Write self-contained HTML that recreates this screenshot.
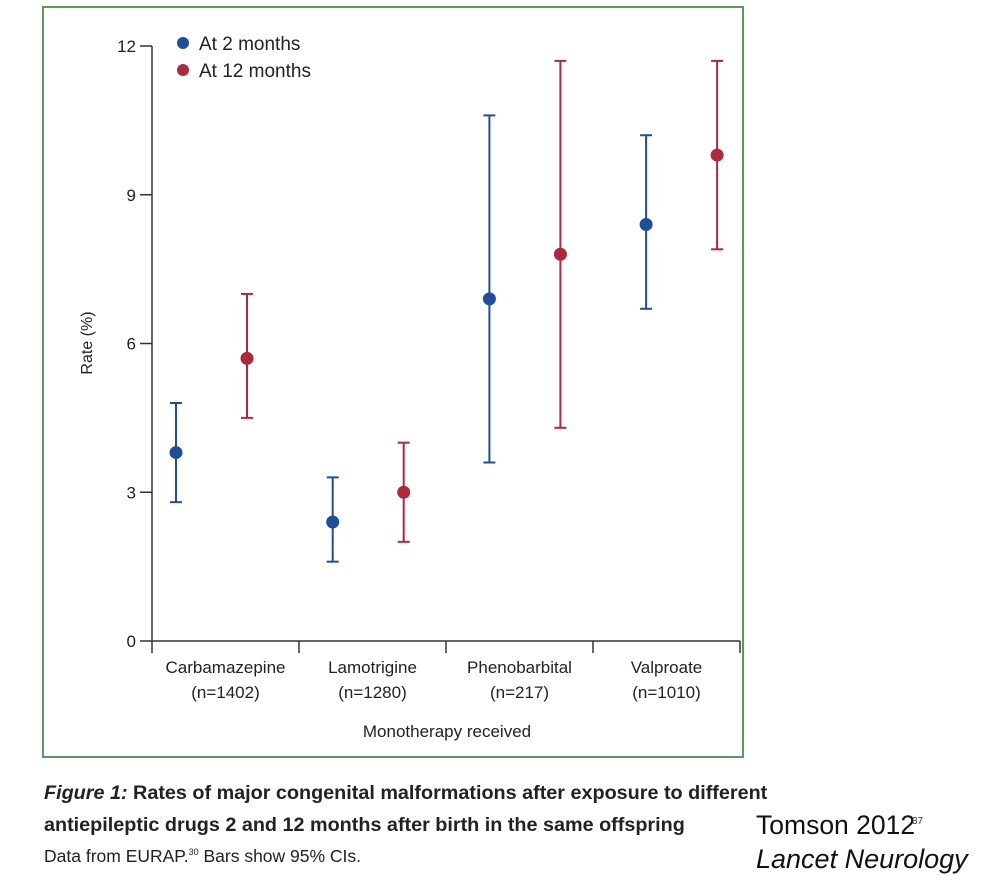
<!DOCTYPE html>
<html><head><meta charset="utf-8"><style>
body{margin:0;width:984px;height:890px;background:#fff;overflow:hidden;font-family:"Liberation Sans",sans-serif;position:relative}
#frame{position:absolute;left:42px;top:6px;width:702px;height:752px;border:2px solid #5a9a5a;box-sizing:border-box}
svg text{font-family:"Liberation Sans",sans-serif;fill:#222}
.cap{position:absolute;left:44px;font-size:19.8px;color:#222;white-space:nowrap}
</style></head><body>
<div id="frame"></div>
<svg id="chart" width="984" height="770" style="position:absolute;left:0;top:0"></svg>
<div class="cap" style="top:782px;font-weight:bold"><i>Figure 1:</i> Rates of major congenital malformations after exposure to different</div>
<div class="cap" style="top:814px;font-weight:bold">antiepileptic drugs 2 and 12 months after birth in the same offspring</div>
<div class="cap" style="top:846px;font-size:17.5px">Data from EURAP.<sup style="font-size:9px">30</sup> Bars show 95% CIs.</div>
<div style="position:absolute;left:756px;top:810px;font-size:26.5px;color:#111">Tomson 2012</div>
<div style="position:absolute;left:756px;top:844px;font-size:27px;font-style:italic;color:#111">Lancet Neurology</div>
<div style="position:absolute;left:912px;top:816px;font-size:10px;color:#333">37</div>
<script>
const categories=["Carbamazepine","Lamotrigine","Phenobarbital","Valproate"];
const nLabels=["(n=1402)","(n=1280)","(n=217)","(n=1010)"];
const m2=[3.8,2.4,6.9,8.4];
const m2lo=[2.8,1.6,3.6,6.7];
const m2hi=[4.8,3.3,10.6,10.2];
const m12=[5.7,3.0,7.8,9.8];
const m12lo=[4.5,2.0,4.3,7.9];
const m12hi=[7.0,4.0,11.7,11.7];
const yTicks=[0,3,6,9,12];
const NS="http://www.w3.org/2000/svg";
const svg=document.getElementById('chart');
const x0=152,x1=740,y0=641,y12=46;
const y=v=>y0-(v/12)*(y0-y12);
const bw=(x1-x0)/categories.length;
const pt=(i,s)=>176+i*156.7+s*71;
function el(t,a){const e=document.createElementNS(NS,t);for(const k in a)e.setAttribute(k,a[k]);svg.appendChild(e);return e;}
let e;
e=el('line',{x1:x0,y1:y(12),x2:x0,y2:y0,stroke:'#333','stroke-width':1.5});

e=el('line',{x1:x0,y1:y0,x2:x1,y2:y0,stroke:'#333','stroke-width':1.5});

yTicks.forEach(t=>{
 e=el('line',{x1:x0-12,y1:y(t),x2:x0,y2:y(t),stroke:'#333','stroke-width':1.5});
 
 e=el('text',{x:x0-16,y:y(t)+6,'text-anchor':'end','font-size':17});e.textContent=t;
 
});
for(let i=0;i<=categories.length;i++){
 e=el('line',{x1:x0+i*bw,y1:y0,x2:x0+i*bw,y2:y0+12,stroke:'#333','stroke-width':1.5});
 
}
categories.forEach((c,i)=>{
 const cx=x0+(i+0.5)*bw;
 e=el('text',{x:cx,y:673,'text-anchor':'middle','font-size':17});e.textContent=c;
 
 e=el('text',{x:cx,y:698,'text-anchor':'middle','font-size':17});e.textContent=nLabels[i];
 
});
e=el('text',{x:447,y:737,'text-anchor':'middle','font-size':17});e.textContent='Monotherapy received';

e=el('text',{x:0,y:0,'text-anchor':'middle','font-size':16,transform:'translate(92,343) rotate(-90)'});e.textContent='Rate (%)';

function series(m,lo,hi,s,col,name){
 m.forEach((v,i)=>{
  const cx=pt(i,s);
  e=el('line',{x1:cx,y1:y(lo[i]),x2:cx,y2:y(hi[i]),stroke:col,'stroke-width':2});
  
  [lo[i],hi[i]].forEach(b=>{
   e=el('line',{x1:cx-6,y1:y(b),x2:cx+6,y2:y(b),stroke:col,'stroke-width':2});
   
  });
  e=el('circle',{cx:cx,cy:y(v),r:6.5,fill:col});
  
 });
}
series(m2,m2lo,m2hi,0,'#1f4f9c','2-month');
series(m12,m12lo,m12hi,1,'#b0283c','12-month');
[['At 2 months','#1f4f9c',43],['At 12 months','#b0283c',70]].forEach(l=>{
 e=el('circle',{cx:183,cy:l[2],r:6,fill:l[1]});
 
 e=el('text',{x:199,y:l[2]+7,'font-size':19});e.textContent=l[0];
 
});
</script>
</body></html>
